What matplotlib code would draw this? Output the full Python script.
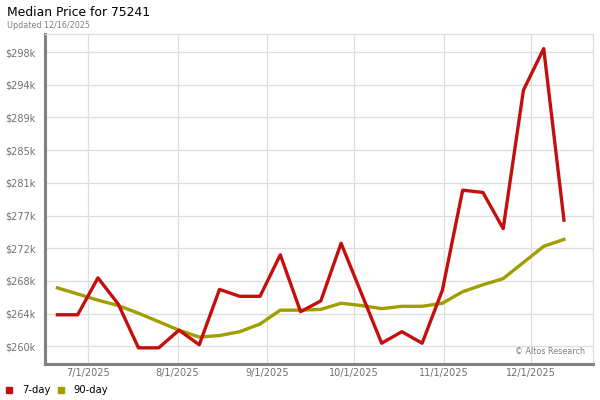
import numpy as np
import pandas as pd
import matplotlib
matplotlib.use('Agg')
import matplotlib.pyplot as plt
import matplotlib.dates as mdates
from matplotlib.lines import Line2D

# weekly points, Friday dates
dates = pd.date_range('2025-06-20 12:00', periods=26, freq='7D')

price7 = [263.7, 263.7, 268.5, 265.1, 259.4, 259.4, 261.7, 259.8, 267.0, 266.1,
          266.1, 271.5, 264.1, 265.5, 273.0, 266.5, 260.0, 261.5, 260.0, 266.9,
          279.9, 279.6, 274.9, 292.9, 298.3, 276.0]
price90 = [267.2, 266.4, 265.6, 264.9, 263.9, 262.8, 261.7, 260.8, 261.0, 261.5,
           262.5, 264.3, 264.3, 264.4, 265.2, 264.9, 264.5, 264.8, 264.8, 265.2,
           266.7, 267.6, 268.4, 270.5, 272.6, 273.5]

ytick_vals = [259.6 + 4.25 * i for i in range(10)]
ytick_labels = ['$260k', '$264k', '$268k', '$272k', '$277k', '$281k',
                '$285k', '$289k', '$294k', '$298k']
xtick_dates = pd.to_datetime(['2025-07-01', '2025-08-01', '2025-09-01',
                              '2025-10-01', '2025-11-01', '2025-12-01'])

red = '#c40f0f'
olive = '#a09e00'

fig = plt.figure(figsize=(6, 4), dpi=100)
ax = fig.add_axes([0.0758, 0.09, 0.913, 0.825])

ax.plot(dates, price7, color=red, lw=2.4, zorder=3)
ax.plot(dates, price90, color=olive, lw=2.4, zorder=2)

ax.set_ylim(257.3, 300.2)
ax.set_xlim(pd.Timestamp('2025-06-16 09:00'), pd.Timestamp('2025-12-22 15:00'))
ax.set_yticks(ytick_vals)
ax.set_yticklabels(ytick_labels)
ax.set_xticks(xtick_dates)
ax.xaxis.set_major_formatter(mdates.DateFormatter('%-m/%-d/%Y'))
ax.tick_params(length=0, labelsize=7, colors='#707070')
ax.tick_params(axis='y', pad=7)
ax.tick_params(axis='x', pad=3)
ax.grid(True, color='#dddddd', lw=0.9)
ax.set_axisbelow(True)

for s in ['top', 'right']:
    ax.spines[s].set_color('#dddddd')
    ax.spines[s].set_linewidth(0.9)
for s in ['left', 'bottom']:
    ax.spines[s].set_color('#808080')
    ax.spines[s].set_linewidth(2.2)

ax.text(0.985, 0.025, '© Altos Research', transform=ax.transAxes,
        ha='right', va='bottom', fontsize=5.8, color='#808080')

fig.text(0.012, 0.985, 'Median Price for 75241', ha='left', va='top', fontsize=8.9)
fig.text(0.012, 0.948, 'Updated 12/16/2025', ha='left', va='top', fontsize=5.8, color='#808080')

handles = [Line2D([], [], marker='s', color=red, ls='none', markersize=4),
           Line2D([], [], marker='s', color=olive, ls='none', markersize=4)]
fig.legend(handles, ['7-day', '90-day'], loc='lower left', bbox_to_anchor=(-0.008, -0.01),
           ncol=2, frameon=False, fontsize=7.2, handletextpad=0.8, columnspacing=0.5,
           handlelength=1.0)

fig.savefig('out.png', dpi=100)
